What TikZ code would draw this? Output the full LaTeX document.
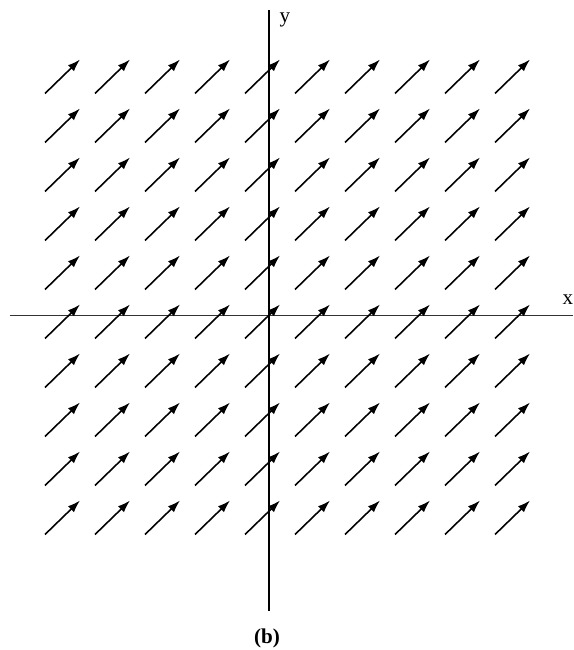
\documentclass[tikz,border=0pt]{standalone}
\usepackage{fontspec}
\setmainfont{Liberation Serif}
\usetikzlibrary{arrows.meta}
\tikzset{fieldvec/.style={line width=0.9pt, -{Latex[length=2.5mm, width=1.7mm]}}}

\begin{document}
\begin{tikzpicture}[font=\large]
  \useasboundingbox (-5.38,-6.7) rectangle (6.08,6.3);
  \draw[black!80, line width=0.5pt] (-5.18,0) -- (6.08,0);
  \draw[black, line width=0.7pt] (0,6.1) -- (0,-5.92);
  \node (ylabel) at (0.32,5.9) {y};
  \node (xlabel) at (5.98,0.3) {x};
  \node[font=\large\bfseries] (caption) at (-0.04,-6.46) {(b)};
  \foreach \i in {-4,...,5}
    \foreach \j in {-4,...,5}
      \draw[fieldvec] (\i-0.48,0.98*\j-0.47) -- ++(0.7,0.68);
\end{tikzpicture}
\end{document}
